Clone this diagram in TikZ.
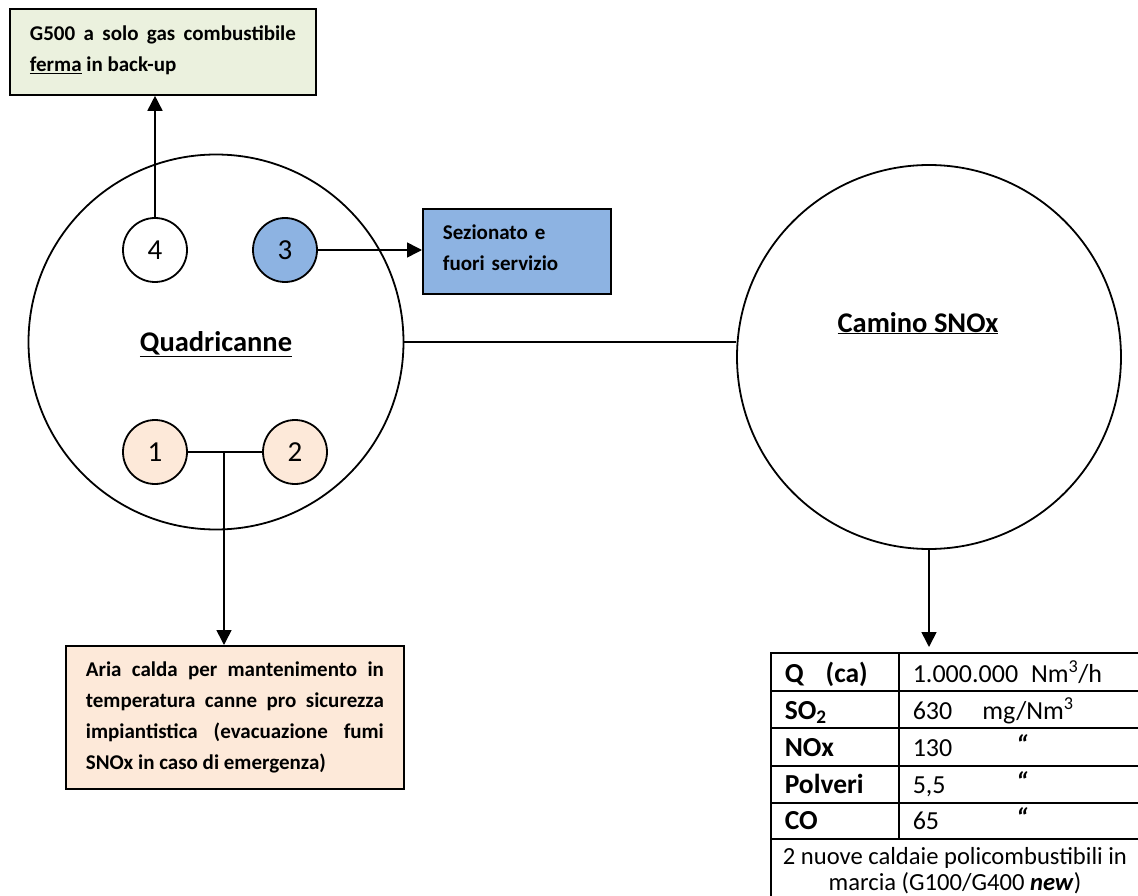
\documentclass[tikz,border=0pt]{standalone}
\usepackage{fontspec}
\setmainfont{Carlito}
\usetikzlibrary{arrows.meta}
\definecolor{greenbox}{HTML}{EBF1DE}
\definecolor{bluebox}{HTML}{8DB3E2}
\definecolor{peach}{HTML}{FDE9D9}
\begin{document}
\begin{tikzpicture}[x=1pt,y=-1pt,line width=1.6pt,
  arr/.style={-{Triangle[length=15pt,width=15pt]}},
  bigc/.style={circle,draw,inner sep=0pt,line width=1.8pt},
  smallc/.style={circle,draw,inner sep=0pt,minimum size=64pt,line width=1.8pt,font=\fontsize{29}{32}\selectfont},
  txtbox/.style={rectangle,draw,line width=1.8pt,inner ysep=0pt,font=\bfseries\fontsize{21}{31}\selectfont},
  lbl/.style={anchor=base,inner sep=0pt,font=\bfseries\fontsize{28.5}{34}\selectfont},
  tlab/.style={anchor=base west,inner sep=0pt,font=\bfseries\fontsize{27.5}{32}\selectfont},
  tval/.style={anchor=base west,inner sep=0pt,font=\fontsize{26}{32}\selectfont},
  ditto/.style={anchor=base,inner sep=0pt,font=\bfseries\itshape\fontsize{27}{32}\selectfont},
  tline/.style={line width=2pt},
]
\useasboundingbox (0,0) rectangle (1138,896);
\clip (0,0) rectangle (1138,896);

% big circles
\node[bigc,minimum size=375pt] (quad) at (216,342) {};
\node[bigc,minimum size=384pt] (camino) at (929,357) {};
\node[lbl] (quadlbl) at (216,351) {\underline{Quadricanne}};
\node[lbl] (caminolbl) at (918,332) {\underline{Camino SNOx}};

% small circles
\node[smallc] (c4) at (155,250) {4};
\node[smallc,fill=bluebox] (c3) at (285,250) {3};
\node[smallc,fill=peach] (c1) at (155,452) {1};
\node[smallc,fill=peach] (c2) at (295,452) {2};

% boxes
\node[txtbox,fill=greenbox,text width=266pt,inner xsep=20pt,minimum height=86pt,
      text depth=38pt,align=justify,anchor=north west] (g500) at (9,8)
  {G500 a solo gas combustibile\linebreak \underline{ferma} in back-up};
\node[txtbox,fill=bluebox,text width=148pt,inner xsep=20pt,minimum height=85pt,
      text depth=38pt,align=left,anchor=north west] (sez) at (422,208)
  {Sezionato e\\fuori servizio};
\node[txtbox,fill=peach,text width=298pt,inner xsep=20pt,minimum height=143pt,
      align=justify,anchor=north west] (aria) at (65,645)
  {Aria calda per mantenimento in\linebreak temperatura canne pro sicurezza\linebreak
   impiantistica (evacuazione fumi\linebreak SNOx in caso di emergenza)};

% connectors
\draw (quad.east) -- (quad.east -| camino.west);
\draw[arr] (c4.north) -- (c4.north |- g500.south);
\draw[arr] (c3.east) -- (c3.east -| sez.west);
\draw (c1.east) -- (c2.west);
\coordinate (j) at (224,452);
\draw[arr] (j) -- (j |- aria.north);
\coordinate (tbltop) at (929,653);
\draw[arr,shorten >=6pt] (camino.south) -- (camino.south |- tbltop);

% table
\foreach \yy in {653,691,728,766,803,839} {\draw[tline] (770,\yy) -- (1145,\yy);}
\draw[tline] (771,652) -- (771,905);
\draw[tline] (899,653) -- (899,839);
\draw[tline] (1141,652) -- (1141,905);

\node[tlab] (tq) at (784,682) {Q\hspace{22pt}(ca)};
\node[tlab] (tso) at (784,719) {SO\textsubscript{2}};
\node[tlab] (tno) at (784,756) {NOx};
\node[tlab] (tpo) at (784,793) {Polveri};
\node[tlab] (tco) at (784,829) {CO};

\node[tval] (vq) at (912,682) {1.000.000\hspace{13pt}Nm\textsuperscript{3}/h};
\node[tval] (vso) at (912,719) {630\hspace{30pt}mg/Nm\textsuperscript{3}};
\node[tval] (vno) at (912,756) {130};
\node[tval] (vpo) at (912,793) {5,5};
\node[tval] (vco) at (912,829) {65};
\node[ditto] (dno) at (1022,754) {“};
\node[ditto] (dpo) at (1022,791) {“};
\node[ditto] (dco) at (1022,827) {“};

\node[anchor=base,inner sep=0pt,align=center,font=\fontsize{24.6}{26}\selectfont] (note) at (955,890)
  {2 nuove caldaie policombustibili in\\marcia (G100/G400 \textbf{\textit{new}})};
\end{tikzpicture}
\end{document}
